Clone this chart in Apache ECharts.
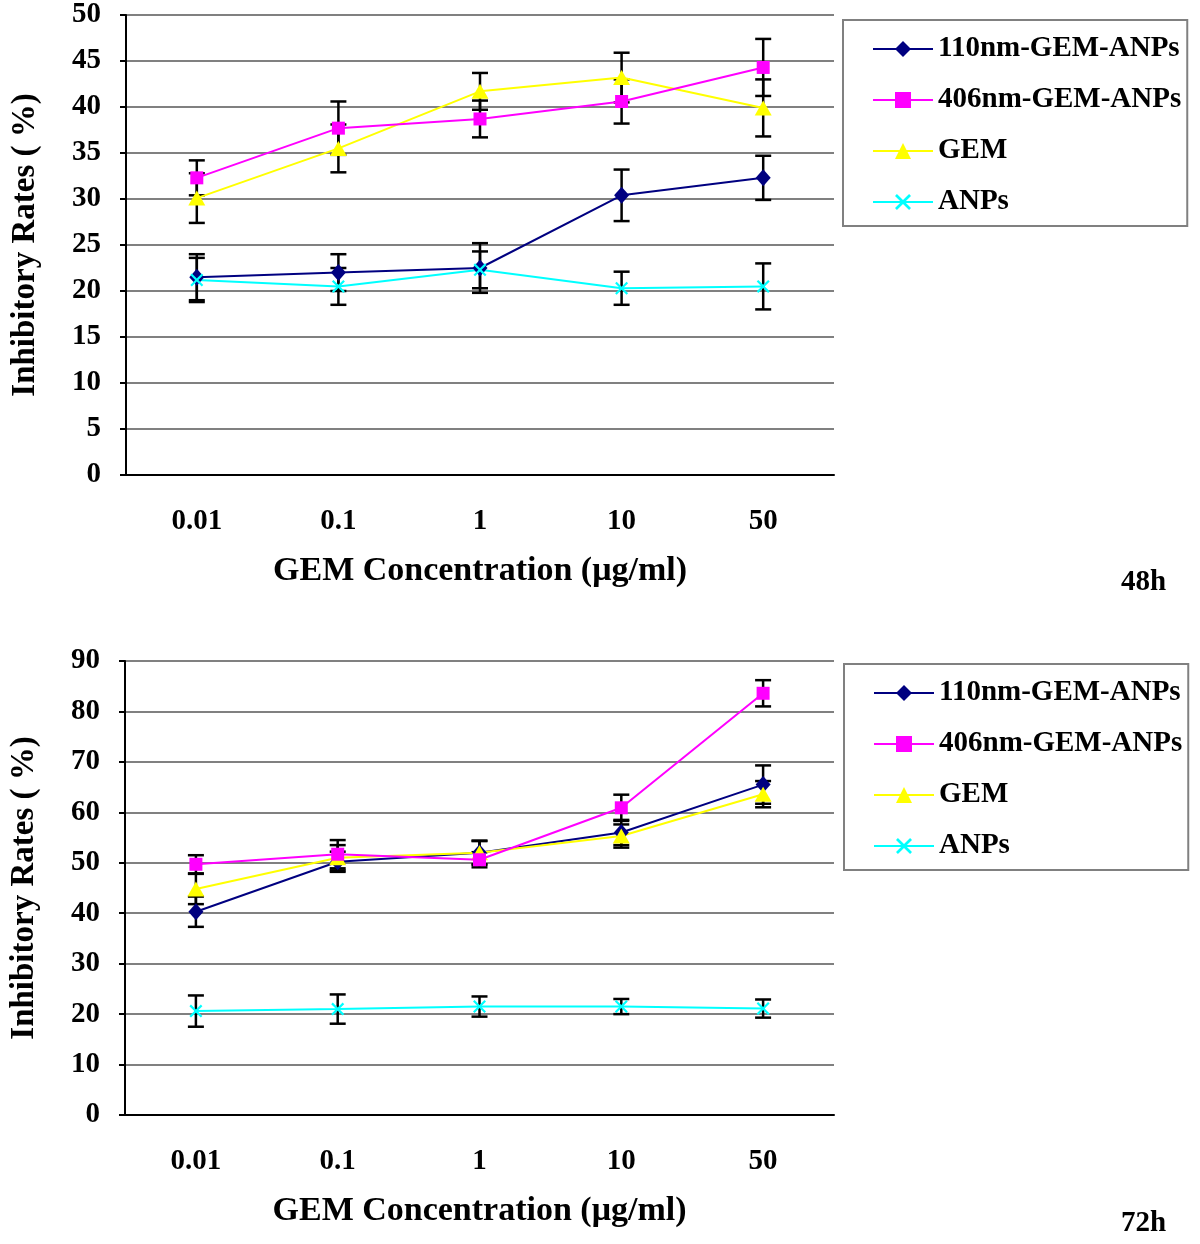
<!DOCTYPE html>
<html>
<head>
<meta charset="utf-8">
<script src="https://cdn.jsdelivr.net/npm/echarts@6/dist/echarts.min.js"></script>
<style>
html,body{margin:0;padding:0;background:#fff;}
#chart{width:1200px;height:1244px;}
</style>
</head>
<body>
<div id="chart"></div>
<script>
// ---- data ----
const categories = ['0.01', '0.1', '1', '10', '50'];
const seriesNames = ['110nm-GEM-ANPs', '406nm-GEM-ANPs', 'GEM', 'ANPs'];

// 48h panel
const h48_110 = [21.5, 22.0, 22.5, 30.4, 32.3];
const h48_110_err = [2.5, 2.0, 2.7, 2.8, 2.4];
const h48_406 = [32.3, 37.7, 38.7, 40.6, 44.3];
const h48_406_err = [1.9, 2.9, 2.0, 2.4, 3.1];
const h48_gem = [30.1, 35.5, 41.7, 43.2, 39.9];
const h48_gem_err = [2.7, 2.6, 2.0, 2.7, 3.1];
const h48_anps = [21.2, 20.5, 22.3, 20.3, 20.5];
const h48_anps_err = [2.4, 2.0, 2.0, 1.8, 2.5];

// 72h panel
const h72_110 = [40.3, 50.2, 52.0, 56.0, 65.5];
const h72_110_err = [3.0, 2.0, 2.4, 2.5, 3.8];
const h72_406 = [49.7, 51.7, 50.6, 60.9, 83.6];
const h72_406_err = [1.8, 2.8, 1.5, 2.6, 2.6];
const h72_gem = [44.8, 51.0, 52.0, 55.3, 63.6];
const h72_gem_err = [3.0, 2.5, 2.3, 2.3, 2.6];
const h72_anps = [20.6, 21.0, 21.5, 21.5, 21.1];
const h72_anps_err = [3.1, 2.9, 2.0, 1.5, 1.8];

const yTicks48 = {min: 0, max: 50, interval: 5};
const yTicks72 = {min: 0, max: 90, interval: 10};
const panelLabels = ['48h', '72h'];

// ---- styling ----
const FONT = 'Liberation Serif';
const colors = ['#000080', '#FF00FF', '#FFFF00', '#00FFFF'];
const xSym = 'path://M0,1.2L1.2,0L5,3.8L8.8,0L10,1.2L6.2,5L10,8.8L8.8,10L5,6.2L1.2,10L0,8.8L3.8,5Z';
const symbols = ['diamond', 'rect', 'triangle', xSym];
const symbolSizes = [[15, 17], 13, [17, 15], 13];

const chart = echarts.init(document.getElementById('chart'));

function errSeries(name, gridIdx, vals, errs) {
  return {
    type: 'custom',
    name: name + ' err' + gridIdx,
    xAxisIndex: gridIdx, yAxisIndex: gridIdx,
    z: 3,
    silent: true,
    data: vals.map((v, i) => [i, v, errs[i]]),
    encode: {x: 0, y: 1},
    renderItem: function (params, api) {
      const x = api.value(0), v = api.value(1), e = api.value(2);
      const top = api.coord([x, v + e]);
      const bot = api.coord([x, v - e]);
      const hw = 8;
      const st = {stroke: '#000', lineWidth: 2.5};
      return {
        type: 'group',
        children: [
          {type: 'line', shape: {x1: top[0], y1: top[1], x2: bot[0], y2: bot[1]}, style: st},
          {type: 'line', shape: {x1: top[0] - hw, y1: top[1], x2: top[0] + hw, y2: top[1]}, style: st},
          {type: 'line', shape: {x1: bot[0] - hw, y1: bot[1], x2: bot[0] + hw, y2: bot[1]}, style: st}
        ]
      };
    }
  };
}

function lineSeries(idx, gridIdx, vals) {
  return {
    type: 'line',
    name: seriesNames[idx],
    xAxisIndex: gridIdx, yAxisIndex: gridIdx,
    data: vals,
    z: idx === 1 ? 5 : 4,
    symbol: symbols[idx],
    symbolSize: symbolSizes[idx],
    showAllSymbol: true,
    lineStyle: {color: colors[idx], width: 2},
    itemStyle: {color: colors[idx]},
    emphasis: {disabled: true}
  };
}

const panels = [
  {data: [h48_110, h48_406, h48_gem, h48_anps], errs: [h48_110_err, h48_406_err, h48_gem_err, h48_anps_err], ticks: yTicks48},
  {data: [h72_110, h72_406, h72_gem, h72_anps], errs: [h72_110_err, h72_406_err, h72_gem_err, h72_anps_err], ticks: yTicks72}
];

const grids = [
  {left: 126, top: 15, width: 708, height: 460},
  {left: 124, top: 661, width: 710, height: 454}
];

const series = [];
panels.forEach((p, g) => {
  p.data.forEach((vals, i) => series.push(lineSeries(i, g, vals)));
  p.data.forEach((vals, i) => series.push(errSeries(seriesNames[i], g, vals, p.errs[i])));
});

const xAxes = grids.map((gr, g) => ({
  type: 'category', gridIndex: g, data: categories, boundaryGap: true,
  axisLine: {lineStyle: {color: '#000', width: 2}},
  axisTick: {inside: true, length: 7, lineStyle: {color: '#000', width: 2}},
  axisLabel: {fontFamily: FONT, fontWeight: 'bold', fontSize: 29, color: '#000', margin: 32},
  name: 'GEM Concentration (μg/ml)', nameLocation: 'middle', nameGap: 79,
  nameTextStyle: {fontFamily: FONT, fontWeight: 'bold', fontSize: 34, color: '#000'},
  splitLine: {show: false}
}));

const yAxes = grids.map((gr, g) => ({
  type: 'value', gridIndex: g,
  min: panels[g].ticks.min, max: panels[g].ticks.max, interval: panels[g].ticks.interval,
  axisLine: {show: true, lineStyle: {color: '#000', width: 2}},
  axisTick: {show: true, length: 6, lineStyle: {color: '#000', width: 2}},
  axisLabel: {fontFamily: FONT, fontWeight: 'bold', fontSize: 29, color: '#000', margin: 25},
  splitLine: {show: true, lineStyle: {color: '#808080', width: 2}},
  name: 'Inhibitory Rates ( %)', nameLocation: 'middle', nameGap: 84,
  nameTextStyle: {fontFamily: FONT, fontWeight: 'bold', fontSize: 33, color: '#000'}
}));

const legends = [
  {top: 20, left: 843},
  {top: 664, left: 844}
].map(pos => ({
  orient: 'vertical',
  left: pos.left, top: pos.top,
  data: seriesNames,
  itemWidth: 60, itemHeight: 20, itemGap: 21,
  padding: [14, 6, 9, 29],
  borderColor: '#808080', borderWidth: 2,
  backgroundColor: '#fff',
  selectedMode: false,
  textStyle: {fontFamily: FONT, fontWeight: 'bold', fontSize: 29, color: '#000', lineHeight: 30}
}));

chart.setOption({
  animation: false,
  backgroundColor: '#fff',
  grid: grids,
  xAxis: xAxes,
  yAxis: yAxes,
  legend: legends,
  series: series,
  graphic: [
    {type: 'text', left: 1121, top: 568, style: {text: panelLabels[0], font: 'bold 29px "Liberation Serif"', fill: '#000'}},
    {type: 'text', left: 1121, top: 1209, style: {text: panelLabels[1], font: 'bold 29px "Liberation Serif"', fill: '#000'}}
  ]
});
</script>
</body>
</html>
